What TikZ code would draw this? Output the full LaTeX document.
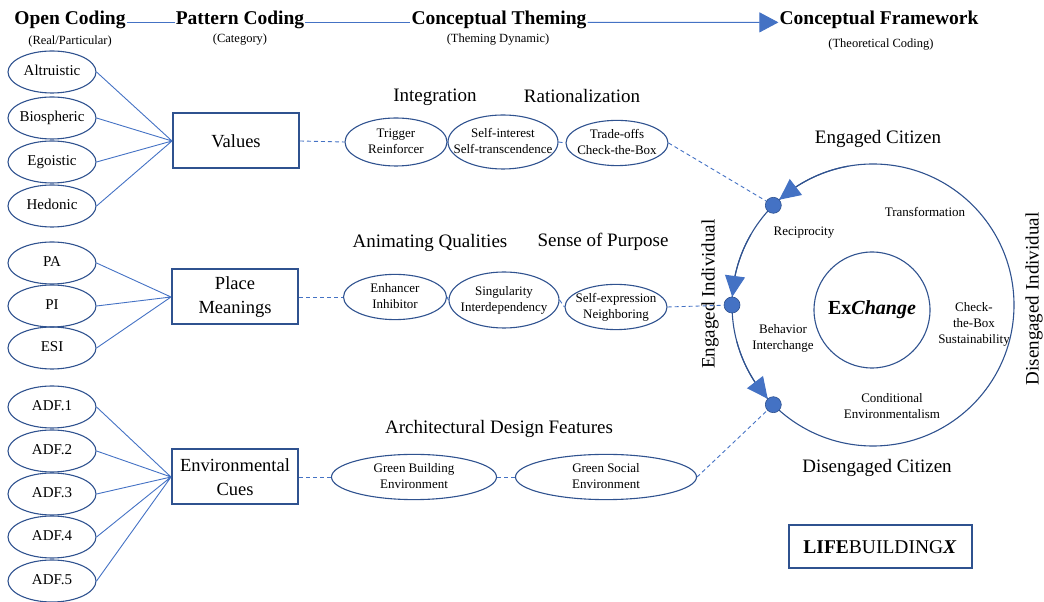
\documentclass[tikz,border=0pt]{standalone}
\usepackage{fontspec}
\setmainfont{Liberation Serif}
\usetikzlibrary{arrows.meta,bending,shapes.geometric}
\definecolor{linkblue}{HTML}{4472C4}
\definecolor{edgeblue}{HTML}{2F528F}
% centred text that does not widen the ellipse around it
\newcommand{\ovaltext}[1]{\makebox[0pt]{\begin{tabular}{@{}c@{}}#1\end{tabular}}}

\begin{document}
\begin{tikzpicture}[x=1pt, y=1pt,
    head/.style={font=\fontsize{19.5}{22}\selectfont\bfseries, inner sep=1pt},
    sub/.style={font=\fontsize{12.5}{15}\selectfont},
    code/.style={draw=edgeblue, ellipse, line width=1.1pt, minimum width=88pt, minimum height=42pt, inner sep=0pt, font=\fontsize{15}{18}\selectfont},
    cat/.style={draw=edgeblue, line width=2pt, minimum width=126pt, minimum height=55pt, align=center, font=\fontsize{18.5}{24.5}\selectfont},
    theme/.style={draw=edgeblue, ellipse, line width=1.1pt, inner sep=0pt, font=\fontsize{13}{16}\selectfont},
    tag/.style={font=\fontsize{19}{22}\selectfont},
    note/.style={align=center, font=\fontsize{13}{16}\selectfont},
    link/.style={linkblue, line width=0.9pt},
    dashlink/.style={link, dash pattern=on 4pt off 3pt},
    dot/.style={circle, fill=linkblue, draw=edgeblue, line width=0.6pt, minimum size=16pt, inner sep=0pt},
    ringarrow/.style={edgeblue, line width=1.1pt, -{Triangle[length=21pt, width=20pt, linkblue]}}]
  \useasboundingbox (0,0) rectangle (1044,602);

  % column heads
  \node[head] (open) at (70,582) {Open Coding};
  \node[sub] (opensub) at (70,560) {(Real/Particular)};
  \node[head] (pattern) at (240,582) {Pattern Coding};
  \node[sub] (patternsub) at (240,562) {(Category)};
  \node[head] (theming) at (499,582) {Conceptual Theming};
  \node[sub] (themingsub) at (498,562) {(Theming Dynamic)};
  \node[head] (frame) at (879,582) {Conceptual Framework};
  \node[sub] (framesub) at (881,557) {(Theoretical Coding)};
  \draw[link] (open.mid east) -- (pattern.mid west);
  \draw[link] (pattern.mid east) -- (theming.mid west);
  \draw[link, -{Triangle[length=19pt, width=20pt]}] (theming.mid east) -- (frame.mid west);

  % open codes
  \node[code] (alt) at (52,530) {\ovaltext{Altruistic}};
  \node[code] (bio) at (52,484) {\ovaltext{Biospheric}};
  \node[code] (ego) at (52,440) {\ovaltext{Egoistic}};
  \node[code] (hed) at (52,396) {\ovaltext{Hedonic}};
  \node[code] (pa) at (52,339) {\ovaltext{PA}};
  \node[code] (pi) at (52,296) {\ovaltext{PI}};
  \node[code] (esi) at (52,254) {\ovaltext{ESI}};
  \node[code] (adfa) at (52,195) {\ovaltext{ADF.1}};
  \node[code] (adfb) at (52,151) {\ovaltext{ADF.2}};
  \node[code] (adfc) at (52,108) {\ovaltext{ADF.3}};
  \node[code] (adfd) at (52,65) {\ovaltext{ADF.4}};
  \node[code] (adfe) at (52,21) {\ovaltext{ADF.5}};

  % categories
  \node[cat] (values) at (236,461) {Values};
  \node[cat] (place) at (235,305) {Place\\Meanings};
  \node[cat] (env) at (235,125) {Environmental\\Cues};
  \draw[link] (alt.east) -- (values.west) (bio.east) -- (values.west)
    (ego.east) -- (values.west) (hed.east) -- (values.west);
  \draw[link] (pa.east) -- (place.west) (pi.east) -- (place.west) (esi.east) -- (place.west);
  \draw[link] (adfa.east) -- (env.west) (adfb.east) -- (env.west) (adfc.east) -- (env.west)
    (adfd.east) -- (env.west) (adfe.east) -- (env.west);

  % theming dynamics
  \node[tag] (integ) at (435,505) {Integration};
  \node[tag] (ration) at (582,506) {Rationalization};
  \node[theme, minimum width=102pt, minimum height=48pt] (trig) at (396,460) {\ovaltext{Trigger\\Reinforcer}};
  \node[theme, minimum width=110pt, minimum height=54pt] (self) at (503,460) {\ovaltext{Self-interest\\Self-transcendence}};
  \node[theme, minimum width=102pt, minimum height=45pt] (trade) at (617,459) {\ovaltext{Trade-offs\\Check-the-Box}};

  \node[tag] (anim) at (430,359) {Animating Qualities};
  \node[tag] (purpose) at (603,360) {Sense of Purpose};
  \node[theme, minimum width=103pt, minimum height=42pt] (enh) at (395,305) {\ovaltext{Enhancer\\Inhibitor}};
  \node[theme, minimum width=110pt, minimum height=56pt] (sing) at (504,302) {\ovaltext{Singularity\\Interdependency}};
  \node[theme, minimum width=102pt, minimum height=39pt] (expr) at (616,295) {\ovaltext{Self-expression\\Neighboring}};

  \node[tag] (arch) at (499,173) {Architectural Design Features};
  \node[theme, minimum width=165pt, minimum height=40pt] (gbe) at (414,125) {\ovaltext{Green Building\\Environment}};
  \node[theme, minimum width=181pt, minimum height=40pt] (gse) at (606,125) {\ovaltext{Green Social\\Environment}};

  % framework cycle
  \node[circle, draw=edgeblue, line width=1.1pt, minimum size=282pt, inner sep=0pt, outer sep=0pt] (ring) at (873,297) {};
  \node[circle, draw=edgeblue, line width=1.1pt, minimum size=116pt, font=\fontsize{20}{24}\selectfont\bfseries] (core) at (872,292) {Ex\textit{Change}};
  \draw[ringarrow] (ring.100) arc[start angle=100, end angle=131.7, radius=141pt];
  \draw[ringarrow] (ring.150) arc[start angle=150, end angle=176.7, radius=141pt];
  \draw[ringarrow] (ring.195) arc[start angle=195, end angle=221.7, radius=141pt];
  \node[dot] (recip) at (ring.135) {};
  \node[dot] (behav) at (ring.180) {};
  \node[dot] (cond) at (ring.225) {};

  \node[tag] (engcit) at (878,463) {Engaged Citizen};
  \node[tag] (discit) at (877,134) {Disengaged Citizen};
  \node[tag, rotate=90] (engind) at (710,308) {Engaged Individual};
  \node[tag, rotate=90] (disind) at (1034,303) {Disengaged Individual};
  \node[note] (transf) at (925,390) {Transformation};
  \node[note] (recipt) at (804,369) {Reciprocity};
  \node[note] (behavt) at (783,264) {Behavior\\Interchange};
  \node[note] (checkt) at (974,278) {Check-\\the-Box\\Sustainability};
  \node[note] (condt) at (892,196) {Conditional\\Environmentalism};

  % dashed hand-over between stages
  \draw[dashlink] (values.east) -- (trig.west);
  \draw[dashlink] (trig.east) -- (self.west);
  \draw[dashlink] (self.east) -- (trade.west);
  \draw[dashlink] (trade.east) -- (recip);
  \draw[dashlink] (place.east) -- (enh.west);
  \draw[dashlink] (enh.east) -- (sing.west);
  \draw[dashlink] (sing.east) -- (expr.west);
  \draw[dashlink] (expr.east) -- (behav);
  \draw[dashlink] (env.east) -- (gbe.west);
  \draw[dashlink] (gbe.east) -- (gse.west);
  \draw[dashlink] (gse.east) -- (cond);

  \node[draw=edgeblue, line width=2pt, minimum width=183pt, minimum height=43pt, font=\fontsize{19.5}{22}\selectfont] (brand) at (880,55) {\textbf{LIFE}BUILDING\textbf{\textit{X}}};
\end{tikzpicture}
\end{document}
